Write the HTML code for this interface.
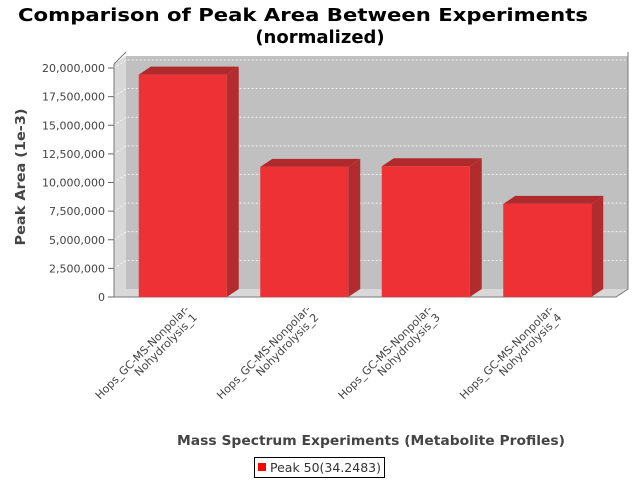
<!DOCTYPE html>
<html><head><meta charset="utf-8"><style>
body{margin:0;background:#fff;}
svg{display:block;font-family:"DejaVu Sans","Liberation Sans",sans-serif;}
</style></head><body>
<svg id="c" width="640" height="480" xmlns="http://www.w3.org/2000/svg">
<text x="303" y="21" text-anchor="middle" font-size="18" font-weight="bold" textLength="570" lengthAdjust="spacingAndGlyphs">Comparison of Peak Area Between Experiments</text>
<text x="320" y="43" text-anchor="middle" font-size="18" font-weight="bold">(normalized)</text>
<g id="plot"></g>
<text transform="translate(25,177) rotate(-90)" text-anchor="middle" font-size="13" font-weight="bold" fill="#444" textLength="137" lengthAdjust="spacingAndGlyphs">Peak Area (1e-3)</text>
<text x="371" y="445" text-anchor="middle" font-size="13" font-weight="bold" fill="#444" textLength="388" lengthAdjust="spacingAndGlyphs">Mass Spectrum Experiments (Metabolite Profiles)</text>
<g>
<rect x="254.5" y="457.5" width="130" height="20" fill="#fff" stroke="#000"/>
<rect x="258" y="463" width="8" height="8" fill="#ff0000"/>
<text x="270" y="472" font-size="12" fill="#333" textLength="111" lengthAdjust="spacingAndGlyphs">Peak 50(34.2483)</text>
</g>
</svg>
<script>
const categories=["Hops_GC-MS-Nonpolar-|Nohydrolysis_1","Hops_GC-MS-Nonpolar-|Nohydrolysis_2","Hops_GC-MS-Nonpolar-|Nohydrolysis_3","Hops_GC-MS-Nonpolar-|Nohydrolysis_4"];
const values=[19420000,11370000,11420000,8130000];
const yTicks=[0,2500000,5000000,7500000,10000000,12500000,15000000,17500000,20000000];
const yTickLabels=["0","2,500,000","5,000,000","7,500,000","10,000,000","12,500,000","15,000,000","17,500,000","20,000,000"];
const NS="http://www.w3.org/2000/svg";
const g=document.getElementById('plot');
const X0=114,X1=616,Y0=297,DX=12,DY=8,YMAX=20350000,YTOP=64;
function y(v){return Y0-(v/YMAX)*(Y0-YTOP);}
function mk(t,a){const e=document.createElementNS(NS,t);for(const k in a)e.setAttribute(k,a[k]);g.appendChild(e);return e;}
let e;
e=mk('rect',{x:X0+DX,y:YTOP-DY,width:X1-X0,height:Y0-YTOP,fill:'#c0c0c0'});


e=mk('polygon',{points:`${X0},${YTOP} ${X0+DX},${YTOP-DY} ${X0+DX},${Y0-DY} ${X0},${Y0}`,fill:'#d8d8d8'});


e=mk('polygon',{points:`${X0},${Y0} ${X0+DX},${Y0-DY} ${X1+DX},${Y0-DY} ${X1},${Y0}`,fill:'#d8d8d8'});


yTicks.forEach((t,i)=>{
  const yy=y(t);
  if(t>0){
    e=mk('polyline',{points:`${X0},${yy} ${X0+DX},${yy-DY} ${X1+DX},${yy-DY}`,fill:'none',stroke:'#fff','stroke-width':0.8,'stroke-dasharray':'2,2'});
    
    
  }
  e=mk('line',{x1:X0-6,x2:X0,y1:yy,y2:yy,stroke:'#666'});
  
  
  e=mk('text',{x:X0-9,y:yy+4,'text-anchor':'end','font-size':11,fill:'#444'});
  e.textContent=yTickLabels[i];
  
  
});
e=mk('polyline',{points:`${X0},${YTOP} ${X0},${Y0} ${X1},${Y0} ${X1+DX},${Y0-DY} ${X1+DX},${YTOP-DY-4}`,fill:'none',stroke:'#777'});


e=mk('line',{x1:X0,y1:YTOP,x2:X0+DX,y2:YTOP-DY-4,stroke:'#777'});


const margin=8, step=(X1-X0-2*margin)/categories.length, bw=88;
categories.forEach((c,i)=>{
  const cx=X0+margin+step*(i+0.5), bx=cx-bw/2, by=y(values[i]);
  e=mk('polygon',{points:`${bx+bw},${by} ${bx+bw+DX},${by-DY} ${bx+bw+DX},${Y0-DY} ${bx+bw},${Y0}`,fill:'#b22c2f'});
  
  
  e=mk('polygon',{points:`${bx},${by} ${bx+DX},${by-DY} ${bx+bw+DX},${by-DY} ${bx+bw},${by}`,fill:'#b02a2c'});
  
  
  e=mk('rect',{x:bx,y:by,width:bw,height:Y0-by,fill:'#ee3134'});
  
  
  const lines=c.split('|');
  lines.forEach((l,j)=>{
    const ax=cx+7+j*8, ay=310+j*8;
    e=mk('text',{x:ax,y:ay,'text-anchor':'end','font-size':11,fill:'#444',transform:`rotate(-45 ${ax} ${ay})`});
    e.textContent=l;
    
    
  });
});
</script>
</body></html>
